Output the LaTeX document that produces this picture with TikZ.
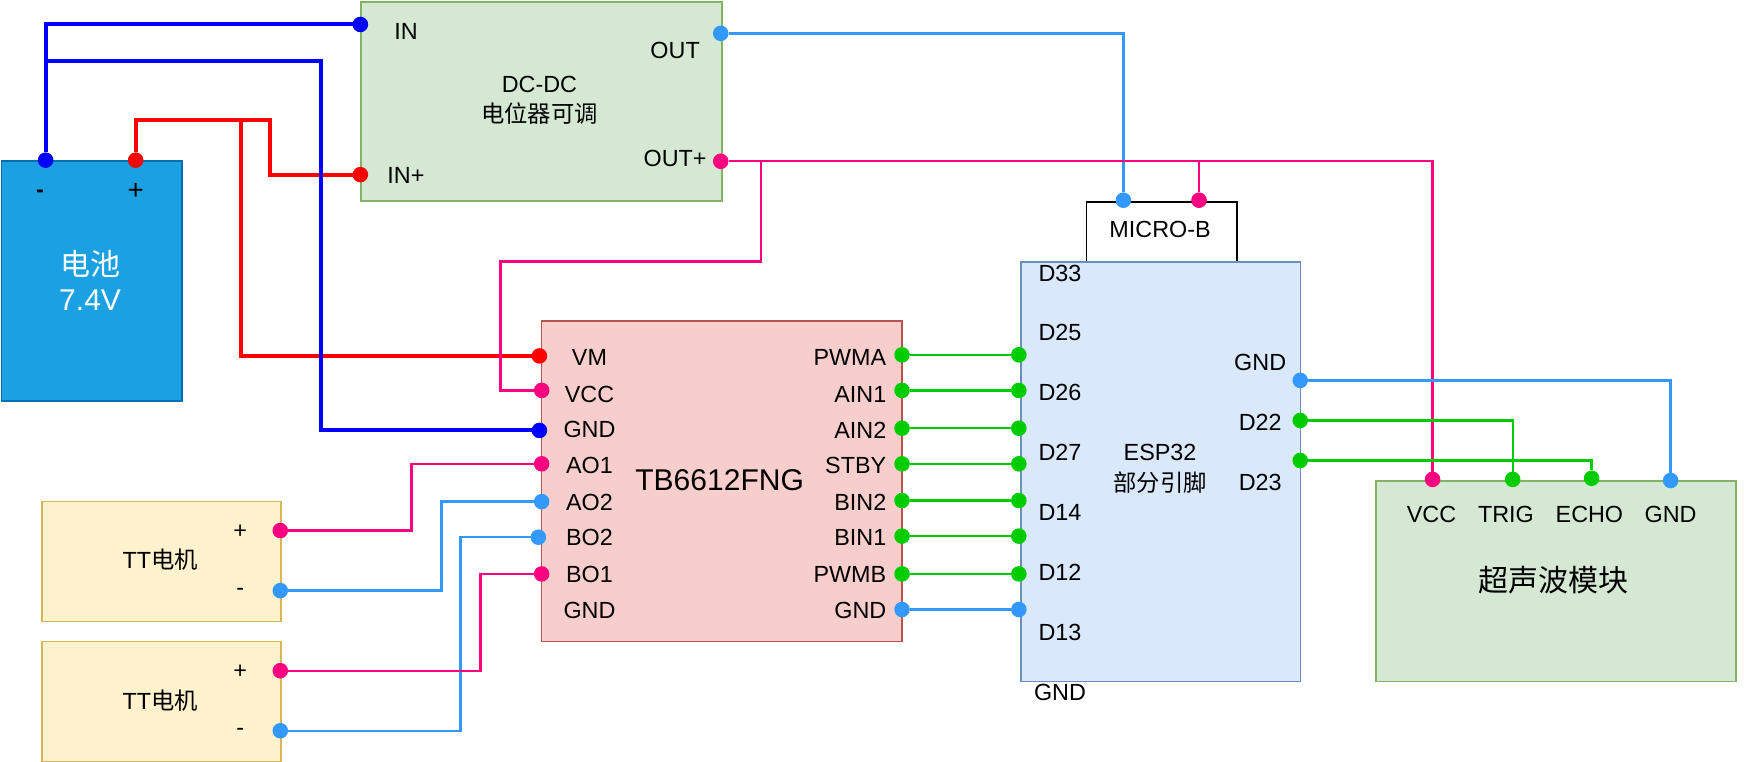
\documentclass[tikz,border=0pt]{standalone}
\usepackage{fontspec}
\setmainfont{Liberation Sans}
\newfontfamily\cjk{Noto Sans CJK SC}
\usetikzlibrary{positioning}
\definecolor{wblue}{HTML}{0000FF}
\definecolor{wred}{HTML}{FF0000}
\definecolor{wpink}{HTML}{FF0080}
\definecolor{wsky}{HTML}{3399FF}
\definecolor{wgreen}{HTML}{00CC00}
\definecolor{batline}{HTML}{006EAF}
\definecolor{batfill}{HTML}{1BA1E2}
\definecolor{grnline}{HTML}{82B366}
\definecolor{grnfill}{HTML}{D5E8D4}
\definecolor{espline}{HTML}{6C8EBF}
\definecolor{espfill}{HTML}{DAE8FC}
\definecolor{tbline}{HTML}{B85450}
\definecolor{tbfill}{HTML}{F8CECC}
\definecolor{motline}{HTML}{D6B656}
\definecolor{motfill}{HTML}{FFF2CC}
\tikzset{
  box/.style={draw=#1,line width=1.6pt,anchor=north west,inner sep=0pt},
  txt/.style={inner sep=0pt,font=\fontsize{21}{27}\selectfont},
  bigtxt/.style={inner sep=0pt,font=\fontsize{27}{31}\selectfont},
  dot/.style={circle,fill=#1,inner sep=0pt,minimum size=14pt,outer sep=0pt},
  thick wire/.style={draw=#1,line width=3.6pt},
  thin wire/.style={draw=#1,line width=2.1pt}
}

\begin{document}
\begin{tikzpicture}[x=1pt,y=-1pt]
\useasboundingbox (0,0) rectangle (1568,685.1);

% Boxes
\node[box=black,fill=white,minimum width=135pt,minimum height=55pt] (micro) at (976,181) {};
\node[box=batline,fill=batfill,minimum width=162pt,minimum height=216pt] (bat) at (0.5,144) {};
\node[box=grnline,fill=grnfill,minimum width=324pt,minimum height=179pt] (dcdc) at (324,1) {};
\node[box=espline,fill=espfill,minimum width=251pt,minimum height=377pt] (esp) at (917.5,235) {};
\node[box=tbline,fill=tbfill,minimum width=324pt,minimum height=288pt] (tb) at (486,288) {};
\node[box=motline,fill=motfill,minimum width=215pt,minimum height=108pt] (motora) at (37,450) {};
\node[box=motline,fill=motfill,minimum width=215pt,minimum height=108pt] (motorb) at (37,576) {};
\node[box=grnline,fill=grnfill,minimum width=324pt,minimum height=180pt] (sonic) at (1236,432) {};

% Pins
\node[dot=wblue] (batneg) at (41,144) {};
\node[dot=wred] (batpos) at (122,144) {};
\node[dot=wblue] (dcin) at (324,22) {};
\node[dot=wred] (dcinp) at (324,157) {};
\node[dot=wsky] (dcout) at (648,30) {};
\node[dot=wpink] (dcoutp) at (648,145) {};
\node[dot=wsky] (microa) at (1010,180) {};
\node[dot=wpink] (microb) at (1078,180) {};
\node[dot=wred] (tbvm) at (485,320) {};
\node[dot=wpink] (tbvcc) at (487,351) {};
\node[dot=wblue] (tbgnd) at (485,387) {};
\node[dot=wpink] (tbao) at (487,417) {};
\node[dot=wsky] (tbat) at (487,451) {};
\node[dot=wsky] (tbbt) at (484,483) {};
\node[dot=wpink] (tbbo) at (487,516) {};
\node[dot=wpink] (mapos) at (252,477) {};
\node[dot=wsky] (maneg) at (252,531) {};
\node[dot=wpink] (mbpos) at (252,603) {};
\node[dot=wsky] (mbneg) at (252,657) {};
\node[dot=wsky] (espgnd) at (1169,342) {};
\node[dot=wgreen] (esptrig) at (1169,378) {};
\node[dot=wgreen] (especho) at (1169,414) {};
\node[dot=wpink] (sonicvcc) at (1288,431) {};
\node[dot=wgreen] (sonictrig) at (1360,431) {};
\node[dot=wgreen] (sonicecho) at (1431,430) {};
\node[dot=wsky] (sonicgnd) at (1502,432) {};

% Power wires
\coordinate (negj) at (41,55);
\coordinate (gndturn) at (289,55);
\coordinate (posturn) at (243,108);
\coordinate (posj) at (217,108);
\draw[thick wire=wred] (batpos) |- (posturn) |- (dcinp);
\draw[thick wire=wred] (posj) |- (tbvm);
\draw[thick wire=wblue] (batneg) |- (dcin);
\draw[thick wire=wblue] (negj) -- (gndturn) |- (tbgnd);

% Logic supply
\coordinate (outj) at (684,145);
\coordinate (vccturn) at (450,235);
\coordinate (microj) at (1078,145);
\draw[thin wire=wsky] (dcout) -| (microa);
\draw[thin wire=wpink] (dcoutp) -| (sonicvcc);
\draw[thin wire=wpink] (outj) |- (vccturn) |- (tbvcc);
\draw[thin wire=wpink] (microj) -- (microb);

% Motor wires
\foreach \from/\to/\x/\col in {mapos/tbao/370/wpink,maneg/tbat/397/wsky,mbneg/tbbt/414/wsky,mbpos/tbbo/432/wpink}
  \draw[thin wire=\col] (\from) -- (\x,0 |- \from) |- (\to);

% TB6612 to ESP32
\foreach \n/\y/\col in {a/319/wgreen,b/351/wgreen,c/385/wgreen,d/417/wgreen,e/450/wgreen,f/482/wgreen,g/516/wgreen,h/548/wsky} {
  \node[dot=\col] (tbr\n) at (811,\y) {};
  \node[dot=\col] (espl\n) at (916,\y) {};
  \draw[thin wire=\col] (tbr\n) -- (espl\n);
}

% Sonar wires
\draw[thin wire=wsky] (espgnd) -| (sonicgnd);
\draw[thin wire=wgreen] (esptrig) -| (sonictrig);
\draw[thin wire=wgreen] (especho) -| (sonicecho);

% Texts
\node[txt] (batm) at (36,174) {\textbf{-}};
\node[txt,font=\fontsize{25}{27}\selectfont] (batp) at (122,172) {+};
\node[bigtxt,white,align=center] (battxt) at (81,252) {\cjk 电池\\7.4V};
\node[txt] (lin) at (365,28) {IN};
\node[txt] (linp) at (365,157.5) {IN+};
\node[txt] (lout) at (607,45) {OUT};
\node[txt] (loutp) at (607,142.5) {OUT+};
\node[txt,align=center] (dctxt) at (485,90.5) {DC-DC\\\cjk 电位器可调};
\node[txt] (microtxt) at (1043,206) {MICRO-B};
\node[txt,align=center] (esptxt) at (1043,421.5) {ESP32\\\cjk 部分引脚};
\node[bigtxt] (tbtxt) at (647,432) {TB6612FNG};
\node[txt] (matxt) at (144,503.5) {TT{\cjk 电机}};
\node[txt] (mbtxt) at (144,629.5) {TT{\cjk 电机}};
\node[txt] (map) at (216,478) {+};
\node[txt] (man) at (216,532) {-};
\node[txt] (mbp) at (216,604) {+};
\node[txt] (mbn) at (216,658) {-};
\node[bigtxt] (sonictxt) at (1397,522) {\cjk 超声波模块};
\foreach \t/\y in {VM/321.5,VCC/354.5,GND/386.5,AO1/418.5,AO2/451.5,BO2/483.5,BO1/516.5,GND/548.5}
  \node[txt] (tl\y) at (530,\y) {\t};
\foreach \t/\y in {PWMA/321.5,AIN1/354.5,AIN2/386.5,STBY/418.5,BIN2/451.5,BIN1/483.5,PWMB/516.5,GND/548.5}
  \node[txt,anchor=east] (tr\y) at (797,\y) {\t};
\foreach \t/\y in {D33/245.5,D25/298.5,D26/352.5,D27/406.5,D14/460.5,D12/514.5,D13/568.5,GND/622.5}
  \node[txt] (el\y) at (953,\y) {\t};
\foreach \t/\y in {GND/325.5,D22/379.5,D23/433.5}
  \node[txt] (er\y) at (1133,\y) {\t};
\foreach \t/\x in {VCC/1287,TRIG/1354,ECHO/1429,GND/1502}
  \node[txt] (s\x) at (\x,462.5) {\t};
\end{tikzpicture}
\end{document}
